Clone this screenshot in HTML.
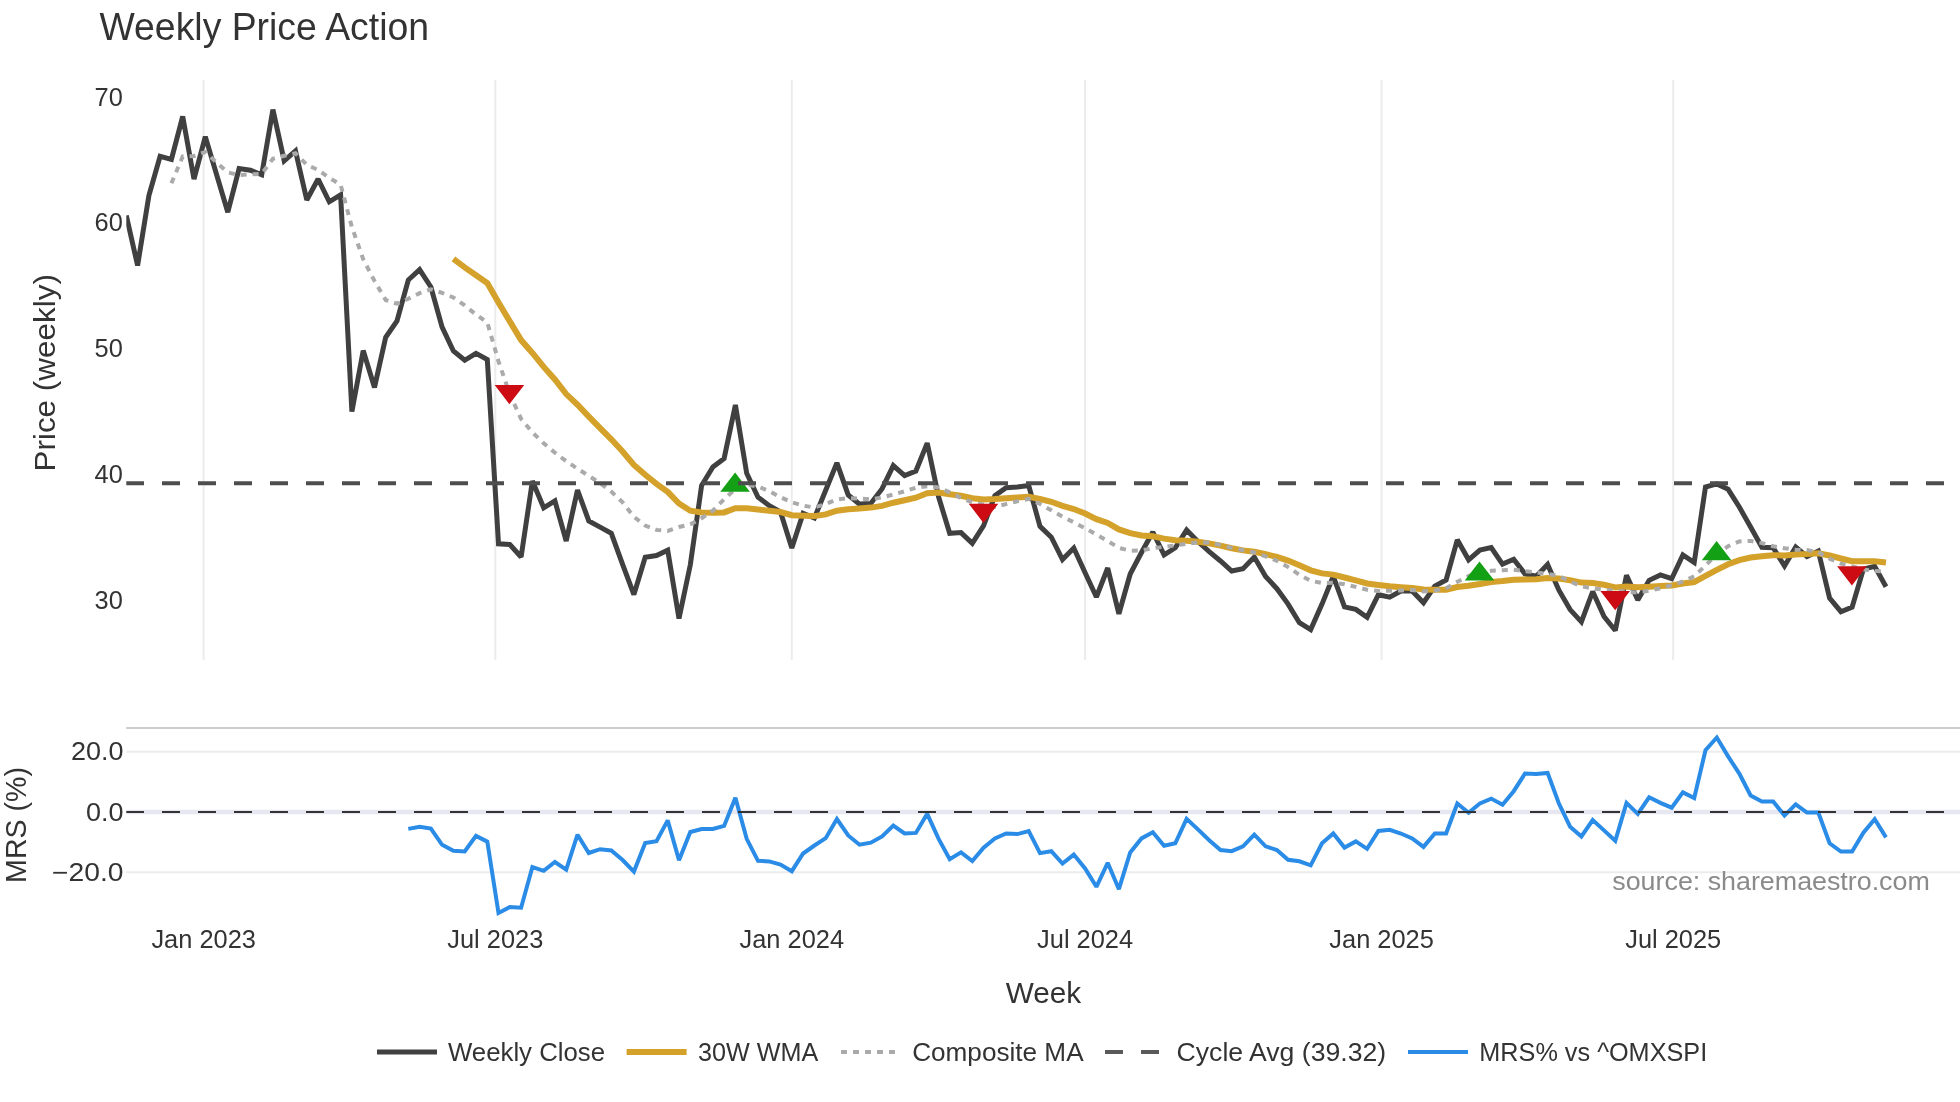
<!DOCTYPE html><html><head><meta charset="utf-8"><style>html,body{margin:0;padding:0;background:#fff;overflow:hidden}svg{display:block;will-change:transform}</style></head><body>
<svg width="1960" height="1102" viewBox="0 0 1960 1102">
<rect width="1960" height="1102" fill="#fff"/>
<text x="99.5" y="40.2" font-family="Liberation Sans, sans-serif" font-size="38" fill="#333333" textLength="329.5" lengthAdjust="spacingAndGlyphs">Weekly Price Action</text>
<line x1="203.65" y1="80" x2="203.65" y2="660" stroke="#ececec" stroke-width="2"/>
<line x1="495.3" y1="80" x2="495.3" y2="660" stroke="#ececec" stroke-width="2"/>
<line x1="791.8" y1="80" x2="791.8" y2="660" stroke="#ececec" stroke-width="2"/>
<line x1="1085.1" y1="80" x2="1085.1" y2="660" stroke="#ececec" stroke-width="2"/>
<line x1="1381.6" y1="80" x2="1381.6" y2="660" stroke="#ececec" stroke-width="2"/>
<line x1="1673.2" y1="80" x2="1673.2" y2="660" stroke="#ececec" stroke-width="2"/>
<text x="122.8" y="105.6" font-family="Liberation Sans, sans-serif" font-size="25.4" fill="#333333" text-anchor="end">70</text>
<text x="122.8" y="231.4" font-family="Liberation Sans, sans-serif" font-size="25.4" fill="#333333" text-anchor="end">60</text>
<text x="122.8" y="357.1" font-family="Liberation Sans, sans-serif" font-size="25.4" fill="#333333" text-anchor="end">50</text>
<text x="122.8" y="482.9" font-family="Liberation Sans, sans-serif" font-size="25.4" fill="#333333" text-anchor="end">40</text>
<text x="122.8" y="608.6" font-family="Liberation Sans, sans-serif" font-size="25.4" fill="#333333" text-anchor="end">30</text>
<text transform="translate(55,372.8) rotate(-90)" x="0" y="0" font-family="Liberation Sans, sans-serif" font-size="29.7" fill="#333333" text-anchor="middle" textLength="197.5" lengthAdjust="spacingAndGlyphs">Price (weekly)</text>
<line x1="126.3" y1="728" x2="1960" y2="728" stroke="#cccccc" stroke-width="2"/>
<line x1="126.3" y1="751.8" x2="1960" y2="751.8" stroke="#ececec" stroke-width="2"/>
<line x1="126.3" y1="872.2" x2="1960" y2="872.2" stroke="#ececec" stroke-width="2"/>
<line x1="126.3" y1="812" x2="1960" y2="812" stroke="#e7e7f1" stroke-width="4.5"/>
<text x="123.5" y="760.3" font-family="Liberation Sans, sans-serif" font-size="25.4" fill="#333333" text-anchor="end" textLength="52.5" lengthAdjust="spacingAndGlyphs">20.0</text>
<text x="123.5" y="820.8" font-family="Liberation Sans, sans-serif" font-size="25.4" fill="#333333" text-anchor="end" textLength="37.5" lengthAdjust="spacingAndGlyphs">0.0</text>
<text x="123.5" y="880.7" font-family="Liberation Sans, sans-serif" font-size="25.4" fill="#333333" text-anchor="end" textLength="71.5" lengthAdjust="spacingAndGlyphs">−20.0</text>
<text transform="translate(25.5,825) rotate(-90)" x="0" y="0" font-family="Liberation Sans, sans-serif" font-size="29.7" fill="#333333" text-anchor="middle" textLength="115.8" lengthAdjust="spacingAndGlyphs">MRS (%)</text>
<text x="1612.3" y="889.8" font-family="Liberation Sans, sans-serif" font-size="25.4" fill="#8a8a8a" textLength="317.5" lengthAdjust="spacingAndGlyphs">source: sharemaestro.com</text>
<text x="203.65" y="947.6" font-family="Liberation Sans, sans-serif" font-size="25.4" fill="#333333" text-anchor="middle">Jan 2023</text>
<text x="495.3" y="947.6" font-family="Liberation Sans, sans-serif" font-size="25.4" fill="#333333" text-anchor="middle">Jul 2023</text>
<text x="791.8" y="947.6" font-family="Liberation Sans, sans-serif" font-size="25.4" fill="#333333" text-anchor="middle">Jan 2024</text>
<text x="1085.1" y="947.6" font-family="Liberation Sans, sans-serif" font-size="25.4" fill="#333333" text-anchor="middle">Jul 2024</text>
<text x="1381.6" y="947.6" font-family="Liberation Sans, sans-serif" font-size="25.4" fill="#333333" text-anchor="middle">Jan 2025</text>
<text x="1673.2" y="947.6" font-family="Liberation Sans, sans-serif" font-size="25.4" fill="#333333" text-anchor="middle">Jul 2025</text>
<text x="1005.7" y="1002.8" font-family="Liberation Sans, sans-serif" font-size="29.7" fill="#333333" textLength="75.5" lengthAdjust="spacingAndGlyphs">Week</text>
<defs><clipPath id="cp1"><rect x="126.3" y="80" width="1834" height="580"/></clipPath><clipPath id="cp2"><rect x="126.3" y="728" width="1834" height="190"/></clipPath></defs>
<g clip-path="url(#cp1)" fill="none">
<path d="M126.3,215.5 L137.6,265.5 L148.9,195.6 L160.1,156.3 L171.4,159.4 L182.7,116.5 L194.0,179.1 L205.3,136.6 L216.5,174.2 L227.8,212.2 L239.1,168.6 L250.4,170.2 L261.7,174.8 L272.9,109.6 L284.2,160.9 L295.5,150.9 L306.8,200.0 L318.1,179.0 L329.3,201.8 L340.6,194.9 L351.9,411.6 L363.2,350.6 L374.5,387.4 L385.7,337.2 L397.0,321.0 L408.3,280.0 L419.6,269.7 L430.9,287.0 L442.1,327.1 L453.4,351.0 L464.7,360.3 L476.0,353.3 L487.3,359.5 L498.5,543.8 L509.8,544.5 L521.1,557.0 L532.4,481.0 L543.7,507.8 L554.9,500.9 L566.2,541.0 L577.5,490.0 L588.8,520.9 L600.1,527.1 L611.3,533.3 L622.6,564.4 L633.9,594.6 L645.2,557.2 L656.5,555.6 L667.7,550.2 L679.0,618.5 L690.3,564.9 L701.6,485.5 L712.9,467.0 L724.1,458.6 L735.4,405.0 L746.7,473.3 L758.0,497.2 L769.3,505.7 L780.5,511.9 L791.8,548.0 L803.1,513.4 L814.4,518.0 L825.7,490.3 L836.9,462.9 L848.2,494.9 L859.5,504.1 L870.8,503.4 L882.1,488.7 L893.3,465.6 L904.6,475.6 L915.9,471.0 L927.2,443.1 L938.5,496.6 L949.7,533.3 L961.0,532.6 L972.3,543.4 L983.6,525.6 L994.9,495.6 L1006.1,487.8 L1017.4,487.1 L1028.7,485.5 L1040.0,526.4 L1051.3,537.2 L1062.5,559.6 L1073.8,548.0 L1085.1,572.8 L1096.4,597.0 L1107.7,568.0 L1118.9,613.8 L1130.2,574.0 L1141.5,552.5 L1152.8,532.0 L1164.1,554.8 L1175.3,547.8 L1186.6,530.1 L1197.9,541.5 L1209.2,551.7 L1220.5,561.0 L1231.7,571.0 L1243.0,568.7 L1254.3,557.1 L1265.6,576.4 L1276.9,588.7 L1288.1,604.1 L1299.4,622.7 L1310.7,629.6 L1322.0,604.1 L1333.3,576.3 L1344.5,606.9 L1355.8,609.4 L1367.1,617.3 L1378.4,594.7 L1389.7,597.1 L1400.9,591.0 L1412.2,591.0 L1423.5,602.7 L1434.8,586.1 L1446.1,580.0 L1457.3,539.8 L1468.6,559.8 L1479.9,550.0 L1491.2,547.6 L1502.5,564.1 L1513.7,559.2 L1525.0,573.9 L1536.3,576.3 L1547.6,564.5 L1558.9,590.2 L1570.1,609.6 L1581.4,621.9 L1592.7,591.5 L1604.0,616.5 L1615.3,630.5 L1626.5,575.2 L1637.8,600.0 L1649.1,580.3 L1660.4,574.9 L1671.7,578.7 L1682.9,555.0 L1694.2,562.5 L1705.5,487.0 L1716.8,483.9 L1728.1,489.3 L1739.3,507.0 L1750.6,527.1 L1761.9,547.3 L1773.2,547.7 L1784.5,566.0 L1795.7,547.0 L1807.0,556.5 L1818.3,551.0 L1829.6,598.0 L1840.9,611.7 L1852.1,607.1 L1863.4,569.0 L1874.7,566.3 L1886.0,586.7" stroke="#404040" stroke-width="5" stroke-miterlimit="2"/>
<path d="M453.4,258.9 L464.7,267.4 L476.0,275.2 L487.3,283.1 L498.5,302.6 L509.8,321.4 L521.1,340.1 L532.4,352.9 L543.7,366.9 L554.9,379.5 L566.2,394.1 L577.5,404.7 L588.8,416.6 L600.1,428.1 L611.3,439.3 L622.6,451.5 L633.9,464.9 L645.2,474.8 L656.5,483.9 L667.7,491.9 L679.0,503.5 L690.3,510.7 L701.6,512.5 L712.9,512.8 L724.1,512.4 L735.4,508.3 L746.7,508.3 L758.0,509.6 L769.3,510.8 L780.5,512.0 L791.8,515.2 L803.1,515.7 L814.4,516.1 L825.7,514.4 L836.9,510.7 L848.2,509.2 L859.5,508.4 L870.8,507.6 L882.1,505.9 L893.3,502.7 L904.6,500.3 L915.9,497.7 L927.2,493.3 L938.5,492.5 L949.7,494.2 L961.0,495.8 L972.3,498.2 L983.6,499.6 L994.9,499.1 L1006.1,498.2 L1017.4,497.4 L1028.7,496.8 L1040.0,499.0 L1051.3,501.8 L1062.5,505.9 L1073.8,509.0 L1085.1,513.5 L1096.4,519.2 L1107.7,522.9 L1118.9,529.4 L1130.2,533.2 L1141.5,535.4 L1152.8,536.3 L1164.1,538.6 L1175.3,540.3 L1186.6,540.7 L1197.9,541.8 L1209.2,543.4 L1220.5,545.6 L1231.7,548.2 L1243.0,550.4 L1254.3,551.7 L1265.6,554.1 L1276.9,557.0 L1288.1,560.6 L1299.4,565.3 L1310.7,570.3 L1322.0,573.4 L1333.3,574.6 L1344.5,577.5 L1355.8,580.4 L1367.1,583.5 L1378.4,584.9 L1389.7,586.3 L1400.9,587.2 L1412.2,588.0 L1423.5,589.4 L1434.8,589.7 L1446.1,589.7 L1457.3,587.0 L1468.6,585.8 L1479.9,584.0 L1491.2,582.0 L1502.5,581.1 L1513.7,579.8 L1525.0,579.5 L1536.3,579.2 L1547.6,578.0 L1558.9,578.6 L1570.1,580.2 L1581.4,582.6 L1592.7,583.0 L1604.0,584.8 L1615.3,587.5 L1626.5,586.6 L1637.8,587.2 L1649.1,586.7 L1660.4,585.9 L1671.7,585.5 L1682.9,583.5 L1694.2,582.1 L1705.5,575.9 L1716.8,569.8 L1728.1,564.3 L1739.3,560.1 L1750.6,557.5 L1761.9,556.3 L1773.2,555.2 L1784.5,555.4 L1795.7,554.4 L1807.0,554.0 L1818.3,553.2 L1829.6,555.5 L1840.9,558.5 L1852.1,561.2 L1863.4,561.3 L1874.7,561.2 L1886.0,562.5" stroke="#d4a12a" stroke-width="6" stroke-miterlimit="2"/>
<path d="M171.4,183.3 L182.7,156.4 L194.0,156.0 L205.3,152.0 L216.5,162.5 L227.8,172.3 L239.1,175.2 L250.4,174.3 L261.7,173.9 L272.9,158.8 L284.2,155.8 L295.5,153.3 L306.8,164.9 L318.1,169.9 L329.3,177.9 L340.6,184.6 L351.9,227.1 L363.2,259.2 L374.5,281.0 L385.7,300.0 L397.0,303.7 L408.3,298.8 L419.6,293.2 L430.9,289.3 L442.1,292.9 L453.4,297.5 L464.7,305.4 L476.0,314.6 L487.3,322.5 L498.5,361.3 L509.8,394.3 L521.1,418.9 L532.4,432.4 L543.7,443.3 L554.9,452.7 L566.2,461.1 L577.5,468.7 L588.8,475.9 L600.1,483.1 L611.3,491.6 L622.6,502.3 L633.9,516.8 L645.2,525.5 L656.5,529.9 L667.7,530.9 L679.0,527.0 L690.3,524.4 L701.6,518.2 L712.9,510.7 L724.1,499.2 L735.4,489.2 L746.7,484.5 L758.0,486.5 L769.3,491.2 L780.5,497.2 L791.8,502.2 L803.1,505.6 L814.4,507.5 L825.7,504.1 L836.9,499.4 L848.2,498.3 L859.5,498.6 L870.8,499.4 L882.1,497.4 L893.3,494.6 L904.6,491.3 L915.9,487.7 L927.2,486.2 L938.5,487.4 L949.7,492.4 L961.0,497.9 L972.3,502.3 L983.6,504.8 L994.9,506.9 L1006.1,504.1 L1017.4,501.2 L1028.7,498.9 L1040.0,504.0 L1051.3,510.3 L1062.5,516.7 L1073.8,522.3 L1085.1,528.2 L1096.4,534.6 L1107.7,541.0 L1118.9,547.9 L1130.2,550.7 L1141.5,550.5 L1152.8,548.2 L1164.1,546.8 L1175.3,545.4 L1186.6,543.8 L1197.9,542.4 L1209.2,542.4 L1220.5,544.9 L1231.7,547.9 L1243.0,550.2 L1254.3,552.5 L1265.6,556.4 L1276.9,560.8 L1288.1,567.1 L1299.4,574.8 L1310.7,580.8 L1322.0,583.0 L1333.3,582.8 L1344.5,584.3 L1355.8,586.9 L1367.1,589.7 L1378.4,591.0 L1389.7,590.8 L1400.9,590.4 L1412.2,590.0 L1423.5,591.5 L1434.8,590.4 L1446.1,588.2 L1457.3,581.8 L1468.6,576.1 L1479.9,571.9 L1491.2,570.8 L1502.5,570.3 L1513.7,569.7 L1525.0,571.1 L1536.3,572.4 L1547.6,574.0 L1558.9,575.9 L1570.1,581.5 L1581.4,586.3 L1592.7,588.5 L1604.0,589.7 L1615.3,590.7 L1626.5,591.6 L1637.8,592.5 L1649.1,590.7 L1660.4,588.2 L1671.7,585.2 L1682.9,581.5 L1694.2,576.4 L1705.5,565.4 L1716.8,554.4 L1728.1,546.2 L1739.3,541.4 L1750.6,540.9 L1761.9,543.1 L1773.2,546.2 L1784.5,548.3 L1795.7,549.7 L1807.0,550.1 L1818.3,552.2 L1829.6,558.8 L1840.9,563.6 L1852.1,566.5 L1863.4,569.4 L1874.7,571.0 L1886.0,571.3" stroke="#aaaaaa" stroke-width="4" stroke-dasharray="6,6" stroke-miterlimit="2"/>
<path d="M494.7,385.0H524.2L509.4,404.2ZM968.7,503.7H998.3L983.5,522.9ZM1600.4,591.1H1630.0L1615.2,610.3ZM1837.1,566.3H1866.7L1851.9,585.5Z" fill="#cc0c12" stroke="none"/>
<path d="M720.3,491.8H749.9L735.1,472.6ZM1464.7,580.6H1494.3L1479.5,561.4ZM1701.8,560.2H1731.4L1716.6,541.0Z" fill="#14a014" stroke="none"/>
<line x1="126" y1="483.2" x2="1960" y2="483.2" stroke="#4d4d4d" stroke-width="4" stroke-dasharray="18,18"/>
</g>
<g clip-path="url(#cp2)" fill="none">
<path d="M408.3,828.9 L419.6,826.8 L430.9,828.5 L442.1,844.8 L453.4,850.8 L464.7,851.5 L476.0,835.9 L487.3,841.6 L498.5,913.0 L509.8,907.0 L521.1,907.7 L532.4,867.0 L543.7,870.8 L554.9,862.0 L566.2,869.6 L577.5,834.7 L588.8,853.0 L600.1,849.2 L611.3,850.5 L622.6,860.0 L633.9,871.6 L645.2,843.1 L656.5,841.2 L667.7,820.4 L679.0,860.3 L690.3,832.0 L701.6,829.0 L712.9,829.0 L724.1,825.9 L735.4,797.7 L746.7,838.8 L758.0,860.8 L769.3,861.4 L780.5,864.5 L791.8,871.2 L803.1,853.5 L814.4,845.5 L825.7,838.2 L836.9,819.0 L848.2,835.5 L859.5,844.7 L870.8,842.7 L882.1,836.5 L893.3,825.5 L904.6,833.5 L915.9,832.9 L927.2,813.8 L938.5,838.7 L949.7,859.2 L961.0,852.4 L972.3,861.0 L983.6,847.6 L994.9,838.4 L1006.1,833.5 L1017.4,834.1 L1028.7,831.0 L1040.0,853.1 L1051.3,851.2 L1062.5,863.5 L1073.8,854.6 L1085.1,868.4 L1096.4,886.8 L1107.7,862.8 L1118.9,889.2 L1130.2,852.4 L1141.5,838.4 L1152.8,832.2 L1164.1,845.7 L1175.3,843.3 L1186.6,818.8 L1197.9,829.4 L1209.2,840.2 L1220.5,850.0 L1231.7,851.2 L1243.0,846.3 L1254.3,834.7 L1265.6,846.3 L1276.9,850.0 L1288.1,859.8 L1299.4,861.3 L1310.7,865.3 L1322.0,843.3 L1333.3,833.5 L1344.5,847.6 L1355.8,841.4 L1367.1,848.8 L1378.4,831.0 L1389.7,829.8 L1400.9,833.5 L1412.2,838.4 L1423.5,846.9 L1434.8,833.5 L1446.1,833.5 L1457.3,803.5 L1468.6,812.7 L1479.9,803.5 L1491.2,798.6 L1502.5,804.7 L1513.7,791.2 L1525.0,773.5 L1536.3,774.1 L1547.6,772.9 L1558.9,803.5 L1570.1,826.7 L1581.4,836.5 L1592.7,820.0 L1604.0,830.4 L1615.3,840.8 L1626.5,802.9 L1637.8,813.9 L1649.1,797.3 L1660.4,802.9 L1671.7,807.7 L1682.9,792.4 L1694.2,798.0 L1705.5,750.2 L1716.8,737.5 L1728.1,756.4 L1739.3,773.6 L1750.6,795.5 L1761.9,801.4 L1773.2,801.4 L1784.5,815.6 L1795.7,804.3 L1807.0,812.6 L1818.3,812.6 L1829.6,843.3 L1840.9,851.5 L1852.1,851.5 L1863.4,832.7 L1874.7,819.1 L1886.0,837.4" stroke="#2a8ce6" stroke-width="4" stroke-miterlimit="2"/>
<line x1="126" y1="812" x2="1960" y2="812" stroke="#333333" stroke-width="2" stroke-dasharray="18,18"/>
</g>
<line x1="377" y1="1052" x2="437" y2="1052" stroke="#404040" stroke-width="5"/>
<text x="448" y="1060.8" font-family="Liberation Sans, sans-serif" font-size="25.4" fill="#333333" textLength="157" lengthAdjust="spacingAndGlyphs">Weekly Close</text>
<line x1="626.6" y1="1052" x2="686.6" y2="1052" stroke="#d4a12a" stroke-width="6" stroke-miterlimit="2"/>
<text x="698" y="1060.8" font-family="Liberation Sans, sans-serif" font-size="25.4" fill="#333333" textLength="120.4" lengthAdjust="spacingAndGlyphs">30W WMA</text>
<line x1="841" y1="1052" x2="901" y2="1052" stroke="#aaaaaa" stroke-width="4" stroke-dasharray="6,6"/>
<text x="912.2" y="1060.8" font-family="Liberation Sans, sans-serif" font-size="25.4" fill="#333333" textLength="171.4" lengthAdjust="spacingAndGlyphs">Composite MA</text>
<line x1="1105" y1="1052" x2="1165" y2="1052" stroke="#5a5a5a" stroke-width="4" stroke-dasharray="18,18"/>
<text x="1176.6" y="1060.8" font-family="Liberation Sans, sans-serif" font-size="25.4" fill="#333333" textLength="209.5" lengthAdjust="spacingAndGlyphs">Cycle Avg (39.32)</text>
<line x1="1408" y1="1052" x2="1468" y2="1052" stroke="#2a8ce6" stroke-width="4"/>
<text x="1479.3" y="1060.8" font-family="Liberation Sans, sans-serif" font-size="25.4" fill="#333333" textLength="227.9" lengthAdjust="spacingAndGlyphs">MRS% vs ^OMXSPI</text>
</svg></body></html>
